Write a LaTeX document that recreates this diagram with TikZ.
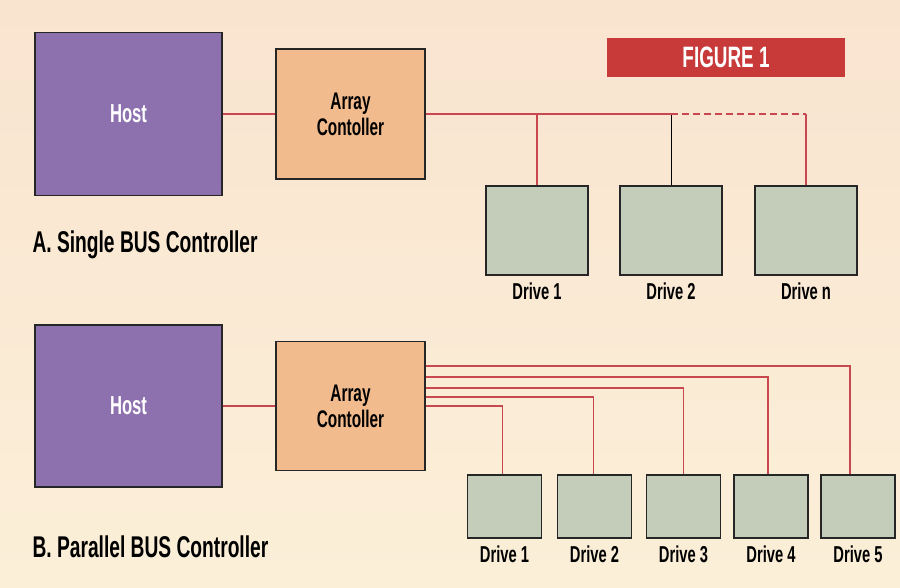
\documentclass[tikz,border=0pt]{standalone}
\usepackage{fontspec}
\setmainfont{Liberation Sans}[FakeStretch=0.64]
\usetikzlibrary{positioning}

\definecolor{paper}{HTML}{F9E4D0}
\definecolor{paperlow}{HTML}{FBEFD8}
\definecolor{hostfill}{HTML}{8D71AE}
\definecolor{arrfill}{HTML}{F1BB8D}
\definecolor{drvfill}{HTML}{C4CDB9}
\definecolor{busred}{HTML}{C9474F}
\definecolor{figred}{HTML}{C8393A}

\tikzset{
  hostbox/.style={draw=black!85, line width=1.6pt, fill=hostfill, text=white,
    font=\bfseries\fontsize{26}{28}\selectfont},
  arrbox/.style={draw=black!85, line width=1.6pt, fill=arrfill, align=center,
    font=\bfseries\fontsize{24}{26}\selectfont},
  drvbox/.style={draw=black!85, line width=1.6pt, fill=drvfill},
  drvlabel/.style={font=\bfseries\fontsize{23}{25}\selectfont},
  title/.style={anchor=west, font=\bfseries\fontsize{30}{32}\selectfont},
  bus/.style={draw=busred, line width=1.5pt}
}

\begin{document}
\begin{tikzpicture}[x=1pt,y=-1pt]
  \shade[top color=paper, bottom color=paperlow] (0,0) rectangle (900,587);
  \useasboundingbox (0,0) rectangle (900,587);

  % figure tag
  \node[fill=figred, minimum width=238pt, minimum height=39pt, text=white,
    font=\bfseries\fontsize{29.5}{31}\selectfont] (fig) at (726,57.5) {FIGURE 1};

  % A. single bus
  \node[hostbox, minimum width=187pt, minimum height=163pt] (hostA) at (128.5,114) {Host};
  \node[arrbox, minimum width=149pt, minimum height=130pt] (arrA) at (350.5,114) {Array\\Contoller};
  \node[drvbox, minimum width=102pt, minimum height=89pt] (drvA1) at (537,230.5) {};
  \node[drvbox, minimum width=102pt, minimum height=89pt] (drvA2) at (671,230.5) {};
  \node[drvbox, minimum width=102pt, minimum height=89pt] (drvAn) at (806,230.5) {};
  \node[drvlabel, below=3pt of drvA1] {Drive 1};
  \node[drvlabel, below=3pt of drvA2] {Drive 2};
  \node[drvlabel, below=3pt of drvAn] {Drive n};
  \node[title] (ttlA) at (29,245) {A. Single BUS Controller};

  \coordinate (jA2) at (arrA.east -| drvA2.north);
  \draw[bus] (hostA) -- (arrA);
  \draw[bus] (arrA.east) -- (jA2);
  \draw[bus] (arrA.east -| drvA1.north) -- (drvA1.north);
  \draw[black, line width=0.8pt] (jA2) -- (drvA2.north);
  \draw[bus, dash pattern=on 7pt off 4pt] (jA2) -- (jA2 -| drvAn.north);
  \draw[bus] (jA2 -| drvAn.north) -- (drvAn.north);

  % B. parallel bus
  \node[hostbox, minimum width=187pt, minimum height=162pt] (hostB) at (128.5,406) {Host};
  \node[arrbox, minimum width=149pt, minimum height=129pt] (arrB) at (350.5,406) {Array\\Contoller};
  \foreach \i/\xx/\yy/\dx in {1/504.5/406/-2,2/594.5/397/-1,3/683.5/388/0,4/771/377/-3,5/858/366/-8} {
    \node[drvbox, minimum width=74pt, minimum height=63pt] (drvB\i) at (\xx,506.5) {};
    \node[drvlabel, below=3pt of drvB\i] {Drive \i};
    \draw[bus] (arrB.east |- 0,\yy) -| ([xshift=\dx pt]drvB\i.north);
  }
  \node[title] (ttlB) at (29,547) {B. Parallel BUS Controller};
  \draw[bus] (hostB) -- (arrB);
\end{tikzpicture}
\end{document}
